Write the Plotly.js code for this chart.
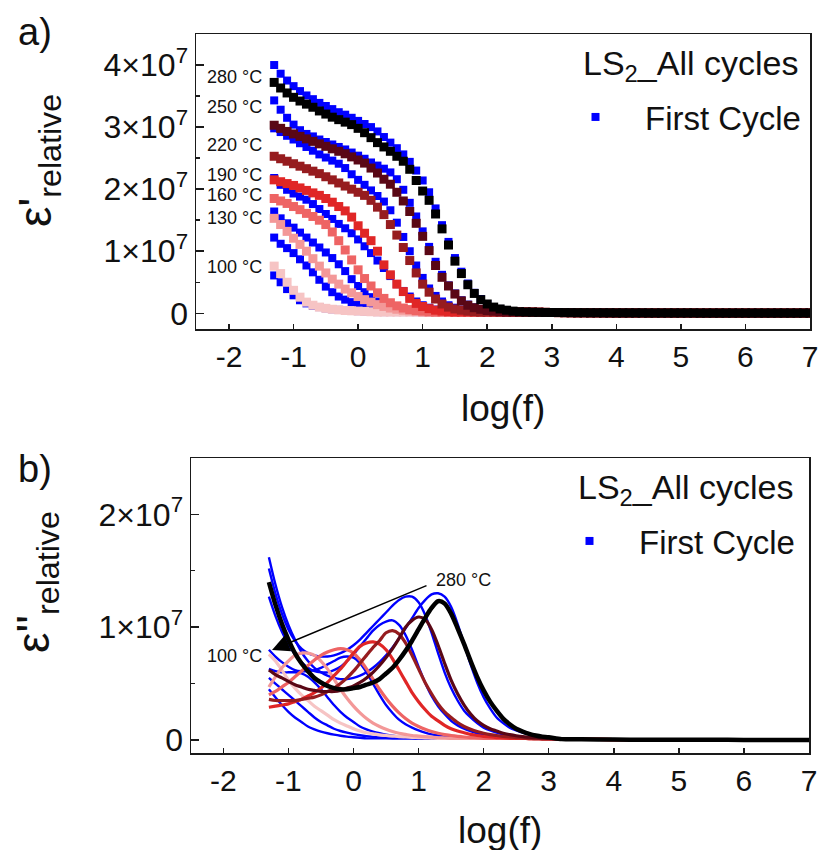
<!DOCTYPE html>
<html><head><meta charset="utf-8">
<script src="https://cdn.plot.ly/plotly-3.0.1.min.js"></script>
<style>html,body{margin:0;padding:0;background:#fff;}#chart{width:819px;height:850px;}</style>
</head><body><div id="chart"></div>
<script>
// ---------- shared frequency grids (log10 f) ----------
const LOGF_TOP = [-1.3,-1.2,-1.1,-1.0,-0.9,-0.8,-0.7,-0.6,-0.5,-0.4,
 -0.3,-0.2,-0.1,0.0,0.1,0.2,0.3,0.4,0.5,0.6,
 0.7,0.8,0.9,1.0,1.1,1.2,1.3,1.4,1.5,1.6,
 1.7,1.8,1.9,2.0,2.1,2.2,2.3,2.4,2.5,2.6,
 2.7,2.8,2.9,3.0,3.1,3.2,3.3,3.4,3.5,3.6,
 3.7,3.8,3.9,4.0,4.1,4.2,4.3,4.4,4.5,4.6,
 4.7,4.8,4.9,5.0,5.1,5.2,5.3,5.4,5.5,5.6,
 5.7,5.8,5.9,6.0,6.1,6.2,6.3,6.4,6.5,6.6,
 6.7,6.8,6.9,7.0];
// high-frequency baseline of eps' (units of 1e7), shared by all series
const TAIL_TOP = [0.02,0.02,0.02,0.02,0.02,0.02,0.02,0.02,0.02,0.02,
 0.02,0.02,0.02,0.02,0.02,0.02,0.02,0.02,0.02,0.02,
 0.02,0.02,0.02,0.02,0.02,0.02,0.02,0.02,0.02,0.02,
 0.02,0.02,0.02,0.02,0.02,0.02,0.02,0.02,0.02,0.02,
 0.018,0.016,0.014,0.013,0.012,0.011,0.010,0.009,0.009,0.008,
 0.008,0.007,0.007,0.006,0.006,0.006,0.006,0.006,0.005,0.005,
 0.005,0.005,0.005,0.005,0.005,0.005,0.004,0.004,0.004,0.004,
 0.004,0.004,0.004,0.004,0.004,0.004,0.004,0.004,0.004,0.004,
 0.004,0.004,0.004,0.004];

// ---------- eps' (units of 1e7), all cycles ----------
const EPS1_280 = [3.72,3.63,3.55,3.48,3.42,3.37,3.32,3.26,3.21,3.16,
 3.12,3.08,3.04,2.98,2.91,2.83,2.75,2.68,2.61,2.53,
 2.45,2.32,2.14,1.97,1.82,1.60,1.36,1.10,0.84,0.64,
 0.46,0.32,0.22,0.15,0.10,0.07,0.05,0.035,0.025,0.02];
const EPS1_250 = [3.03,2.98,2.93,2.89,2.85,2.81,2.77,2.73,2.69,2.65,
 2.61,2.57,2.52,2.47,2.42,2.34,2.26,2.16,2.08,1.95,
 1.81,1.64,1.45,1.24,1.01,0.77,0.58,0.44,0.31,0.20,
 0.13,0.09,0.065,0.045,0.035,0.025,0.02];
const EPS1_220 = [2.53,2.49,2.45,2.41,2.37,2.33,2.29,2.25,2.20,2.15,
 2.10,2.05,2.00,1.95,1.90,1.82,1.71,1.59,1.43,1.26,
 1.06,0.85,0.65,0.47,0.34,0.23,0.15,0.10,0.07,0.05,
 0.035,0.025,0.02];
const EPS1_190 = [2.15,2.12,2.09,2.06,2.02,1.98,1.94,1.90,1.85,1.79,
 1.72,1.65,1.55,1.41,1.29,1.17,1.00,0.78,0.62,0.47,
 0.35,0.24,0.16,0.11,0.075,0.05,0.035,0.025,0.02];
const EPS1_160 = [1.85,1.81,1.77,1.72,1.67,1.61,1.56,1.50,1.43,1.31,
 1.17,1.02,0.86,0.70,0.56,0.44,0.33,0.24,0.17,0.12,
 0.085,0.06,0.045,0.035,0.025,0.02];
const EPS1_130 = [1.53,1.43,1.32,1.21,1.11,1.00,0.88,0.76,0.65,0.55,
 0.47,0.39,0.33,0.27,0.22,0.18,0.14,0.11,0.085,0.065,
 0.05,0.04,0.03,0.02];
const EPS1_100 = [0.76,0.64,0.50,0.37,0.26,0.18,0.13,0.10,0.08,0.065,
 0.055,0.045,0.04,0.035,0.03,0.025,0.02];
// ---------- eps' first cycle ----------
const EPS1_FC_280 = [4.00,3.86,3.75,3.66,3.58,3.51,3.45,3.39,3.34,3.29,
 3.24,3.20,3.15,3.10,3.05,3.00,2.93,2.84,2.75,2.66,
 2.56,2.44,2.30,2.14,1.95,1.69,1.42,1.15,0.89,0.67,
 0.48,0.33,0.23,0.15,0.10,0.07,0.05,0.035,0.025,0.02];
const EPS1_FC_250 = [3.43,3.28,3.15,3.04,2.95,2.89,2.85,2.80,2.76,2.72,
 2.68,2.64,2.59,2.54,2.49,2.43,2.38,2.33,2.27,2.16,
 1.99,1.78,1.56,1.32,1.07,0.83,0.62,0.45,0.32,0.21,
 0.14,0.095,0.07,0.05,0.035,0.025,0.02];
const EPS1_FC_220 = [2.98,2.92,2.86,2.80,2.74,2.68,2.62,2.56,2.51,2.46,
 2.41,2.34,2.24,2.15,2.07,1.98,1.89,1.80,1.66,1.46,
 1.23,1.00,0.77,0.57,0.40,0.28,0.19,0.13,0.09,0.06,
 0.04,0.03,0.02];
const EPS1_FC_190 = [2.18,2.07,1.99,1.93,1.88,1.83,1.76,1.68,1.60,1.52,
 1.44,1.37,1.29,1.19,1.08,0.97,0.85,0.73,0.60,0.47,
 0.36,0.27,0.19,0.13,0.09,0.06,0.04,0.03,0.02];
const EPS1_FC_160 = [1.64,1.53,1.45,1.38,1.30,1.22,1.14,1.06,0.98,0.89,
 0.79,0.68,0.55,0.44,0.34,0.26,0.19,0.14,0.10,0.075,
 0.055,0.04,0.03,0.02];
const EPS1_FC_130 = [1.22,1.12,1.05,0.97,0.87,0.77,0.66,0.54,0.43,0.34,
 0.27,0.22,0.18,0.14,0.11,0.09,0.07,0.055,0.045,0.035,
 0.03,0.025,0.02];
const EPS1_FC_100 = [0.61,0.50,0.39,0.29,0.21,0.16,0.12,0.10,0.08,0.065,
 0.055,0.045,0.04,0.035,0.03,0.025,0.02];

// ---------- eps'' grid ----------
const LOGF_BOT = [-1.3,-1.2,-1.1,-1.0,-0.9,-0.8,-0.7,-0.6,-0.5,-0.4,
 -0.3,-0.2,-0.1,0.0,0.1,0.2,0.3,0.4,0.5,0.6,
 0.7,0.8,0.9,1.0,1.1,1.2,1.3,1.4,1.5,1.6,
 1.7,1.8,1.9,2.0,2.1,2.2,2.3,2.4,2.5,2.6,
 2.7,2.8,2.9,3.0,3.2,3.5,4.0,4.5,5.0,5.5,6.0,6.5,7.0];
const TAIL_BOT = [0.015,0.015,0.015,0.015,0.015,0.015,0.015,0.015,0.015,0.015,
 0.015,0.015,0.015,0.015,0.015,0.015,0.015,0.015,0.015,0.015,
 0.015,0.015,0.015,0.015,0.015,0.015,0.015,0.015,0.015,0.015,
 0.015,0.015,0.015,0.015,0.015,0.015,0.015,0.015,0.015,0.014,
 0.013,0.012,0.011,0.010,0.008,0.006,0.004,0.003,0.002,0.002,0.001,0.001,0.001];
// ---------- eps'' (units of 1e7), all cycles ----------
const EPS2_280 = [1.40,1.20,1.03,0.89,0.77,0.68,0.61,0.55,0.51,0.48,
 0.46,0.45,0.45,0.46,0.47,0.49,0.51,0.54,0.59,0.64,
 0.71,0.79,0.88,0.98,1.08,1.17,1.23,1.21,1.12,0.99,
 0.85,0.70,0.56,0.44,0.34,0.26,0.19,0.14,0.10,0.075,
 0.055,0.04,0.03,0.025];
const EPS2_250 = [0.62,0.58,0.55,0.52,0.49,0.47,0.45,0.44,0.43,0.43,
 0.43,0.44,0.46,0.48,0.51,0.55,0.60,0.66,0.73,0.81,
 0.90,1.00,1.06,1.09,1.07,0.98,0.84,0.68,0.53,0.41,
 0.31,0.23,0.17,0.13,0.10,0.08,0.06,0.048,0.038,0.03,
 0.025,0.02,0.017,0.015];
const EPS2_220 = [0.36,0.35,0.35,0.35,0.35,0.36,0.37,0.38,0.40,0.43,
 0.46,0.50,0.55,0.61,0.68,0.75,0.82,0.88,0.95,0.97,
 0.94,0.86,0.75,0.63,0.51,0.41,0.32,0.25,0.20,0.155,
 0.12,0.095,0.075,0.06,0.048,0.04,0.033,0.027,0.022,0.018,
 0.015];
const EPS2_190 = [0.29,0.30,0.31,0.32,0.34,0.36,0.39,0.42,0.46,0.51,
 0.57,0.63,0.70,0.77,0.83,0.86,0.87,0.85,0.80,0.72,
 0.62,0.52,0.42,0.34,0.27,0.21,0.17,0.13,0.10,0.08,
 0.065,0.05,0.04,0.033,0.027,0.022,0.018,0.015];
const EPS2_160 = [0.40,0.43,0.47,0.51,0.56,0.61,0.66,0.71,0.75,0.78,
 0.80,0.81,0.80,0.77,0.71,0.63,0.54,0.45,0.37,0.30,
 0.24,0.19,0.15,0.12,0.095,0.075,0.06,0.048,0.04,0.033,
 0.027,0.022,0.018,0.015];
const EPS2_130 = [0.47,0.56,0.64,0.70,0.75,0.77,0.77,0.75,0.70,0.63,
 0.54,0.45,0.37,0.30,0.24,0.19,0.15,0.12,0.095,0.075,
 0.06,0.05,0.04,0.035,0.03,0.025,0.02,0.018,0.015];
const EPS2_100 = [0.76,0.70,0.62,0.53,0.46,0.40,0.35,0.30,0.26,0.22,
 0.18,0.15,0.125,0.10,0.08,0.065,0.055,0.045,0.04,0.035,
 0.03,0.027,0.024,0.021,0.019,0.017,0.015];
// ---------- eps'' first cycle ----------
const EPS2_FC_280 = [1.62,1.38,1.18,1.02,0.89,0.78,0.70,0.64,0.60,0.57,
 0.55,0.54,0.54,0.55,0.57,0.60,0.64,0.69,0.75,0.82,
 0.90,0.99,1.08,1.17,1.24,1.29,1.30,1.27,1.18,1.03,
 0.85,0.67,0.51,0.38,0.28,0.20,0.15,0.11,0.085,0.065,
 0.05,0.04,0.033,0.027];
const EPS2_FC_250 = [1.52,1.30,1.12,0.98,0.88,0.81,0.77,0.75,0.74,0.74,
 0.75,0.77,0.80,0.84,0.89,0.95,1.01,1.07,1.13,1.19,
 1.24,1.27,1.27,1.22,1.11,0.95,0.77,0.60,0.46,0.35,
 0.26,0.20,0.15,0.11,0.085,0.065,0.05,0.04,0.032,0.026,
 0.021];
const EPS2_FC_220 = [1.27,1.10,0.96,0.85,0.76,0.69,0.64,0.61,0.60,0.60,
 0.62,0.65,0.70,0.76,0.83,0.90,0.97,1.02,1.05,1.06,
 1.02,0.93,0.80,0.65,0.51,0.39,0.30,0.23,0.17,0.13,
 0.10,0.078,0.06,0.047,0.037,0.03,0.024,0.02];
const EPS2_FC_190 = [0.80,0.74,0.69,0.65,0.62,0.61,0.61,0.62,0.64,0.67,
 0.70,0.73,0.74,0.73,0.68,0.60,0.50,0.40,0.31,0.24,
 0.18,0.14,0.11,0.085,0.065,0.05,0.04,0.032,0.025,0.02];
const EPS2_FC_160 = [0.63,0.61,0.60,0.60,0.60,0.59,0.56,0.51,0.45,0.38,
 0.31,0.25,0.20,0.16,0.12,0.095,0.075,0.06,0.048,0.038,
 0.03,0.025,0.02];
const EPS2_FC_130 = [0.55,0.50,0.45,0.40,0.35,0.30,0.25,0.20,0.16,0.13,
 0.10,0.08,0.065,0.052,0.042,0.034,0.028,0.023,0.019,0.016];
const EPS2_FC_100 = [0.45,0.38,0.31,0.25,0.20,0.16,0.12,0.095,0.075,0.06,
 0.048,0.038,0.03,0.025,0.02];

// ---------- labels / ticks ----------
const TEMPS = ['100 °C','130 °C','160 °C','190 °C','220 °C','250 °C','280 °C'];
const X_TICKS = [-2,-1,0,1,2,3,4,5,6,7];
const X_TEXT = ['-2','-1','0','1','2','3','4','5','6','7'];
const X_MAJOR = [-2,0,2,4,6];
const Y1_TICKS = [0,1,2,3,4];
const Y1_TEXT = ['0','1×10<sup>7</sup>','2×10<sup>7</sup>','3×10<sup>7</sup>','4×10<sup>7</sup>'];
const Y1_MINOR = [0.5,1.5,2.5,3.5,4.5];
const Y2_TICKS = [0,1,2];
const Y2_TEXT = ['0','1×10<sup>7</sup>','2×10<sup>7</sup>'];
const Y2_MINOR = [0.5,1.5];

// ---------- styling ----------
const COLORS = ['#f6c4c4','#f39898','#ee6464','#e02626','#961c1f','#5a0715','#000000'];
const BLUE = '#0000ff';
const FONT = '"Liberation Sans", Arial, sans-serif';
const W = 819, H = 850;
const px = x => x / W, py = y => 1 - y / H;

const ALL1 = [EPS1_100,EPS1_130,EPS1_160,EPS1_190,EPS1_220,EPS1_250,EPS1_280];
const FC1 = [EPS1_FC_100,EPS1_FC_130,EPS1_FC_160,EPS1_FC_190,EPS1_FC_220,EPS1_FC_250,EPS1_FC_280];
const ALL2 = [EPS2_100,EPS2_130,EPS2_160,EPS2_190,EPS2_220,EPS2_250,EPS2_280];
const FC2 = [EPS2_FC_100,EPS2_FC_130,EPS2_FC_160,EPS2_FC_190,EPS2_FC_220,EPS2_FC_250,EPS2_FC_280];

const fullTop = a => a.concat(TAIL_TOP.slice(a.length));
const fullBot = a => a.concat(TAIL_BOT.slice(a.length));

const traces = [];
FC1.forEach((s, i) => traces.push({
  x: LOGF_TOP, y: fullTop(s), type: 'scatter', mode: 'markers', xaxis: 'x', yaxis: 'y',
  marker: {symbol: 'square', size: 8, color: BLUE, line: {width: 0}},
  name: 'First Cycle', legend: 'legend', showlegend: i === 6, hoverinfo: 'skip'
}));
ALL1.forEach((s, i) => traces.push({
  x: LOGF_TOP, y: fullTop(s), type: 'scatter', mode: 'markers', xaxis: 'x', yaxis: 'y',
  marker: {symbol: 'square', size: 9, color: COLORS[i], line: {width: 0}},
  name: TEMPS[i], showlegend: false, hoverinfo: 'skip'
}));
FC2.forEach((s, i) => traces.push({
  x: LOGF_BOT, y: fullBot(s), type: 'scatter', mode: 'lines', xaxis: 'x2', yaxis: 'y2',
  line: {color: BLUE, width: 2.4, shape: 'spline', smoothing: 0.8},
  name: 'First Cycle', showlegend: false, hoverinfo: 'skip'
}));
ALL2.forEach((s, i) => traces.push({
  x: LOGF_BOT, y: fullBot(s), type: 'scatter', mode: 'lines', xaxis: 'x2', yaxis: 'y2',
  line: {color: COLORS[i], width: i === 6 ? 4.5 : 3.2, shape: 'spline', smoothing: 0.8},
  name: TEMPS[i], showlegend: false, hoverinfo: 'skip'
}));
// legend key for the lower panel
traces.push({x: [null], y: [null], type: 'scatter', mode: 'markers', xaxis: 'x2', yaxis: 'y2',
  marker: {symbol: 'square', size: 8, color: BLUE}, name: 'First Cycle', legend: 'legend2', showlegend: true});

const LINE = '#1a1a1a';
const axBase = {showline: true, mirror: true, linecolor: LINE, linewidth: 1.5, showgrid: false, zeroline: false,
  ticks: 'inside', tickcolor: LINE, tickwidth: 1.5};
const xFont = {size: 30, color: '#111', family: FONT};
const yFont = {size: 32, color: '#111', family: FONT};
const tickOnly = {showline: false, showgrid: false, zeroline: false, showticklabels: false,
  ticks: 'inside', ticklen: 9, tickcolor: LINE, tickwidth: 1.5, tickmode: 'array', tickvals: X_MAJOR, side: 'bottom'};

const ann = (text, x, y, size, extra) => Object.assign({text, x: px(x), y: py(y), xref: 'paper', yref: 'paper',
  showarrow: false, font: {size, color: '#111', family: FONT}, xanchor: 'center', yanchor: 'middle'}, extra || {});

const annotations = [
  ann('a)', 35, 32, 38), ann('b)', 35, 469, 38),
  ann("ε'<sub>relative</sub>", 38, 161, 46, {textangle: -90}),
  ann("ε''<sub>relative</sub>", 36, 582, 46, {textangle: -90}),
  ann('log(f)', 503, 408, 37), ann('log(f)', 500, 830, 37),
  ann('LS<sub>2</sub>_All cycles', 581, 66, 34, {xanchor: 'left'}),
  ann('LS<sub>2</sub>_All cycles', 576, 490, 34, {xanchor: 'left'}),
  ann(TEMPS[6], 234, 77, 18), ann(TEMPS[5], 234, 107, 18), ann(TEMPS[4], 234, 145, 18),
  ann(TEMPS[3], 234, 175, 18), ann(TEMPS[2], 234, 195, 18), ann(TEMPS[1], 234, 218, 18),
  ann(TEMPS[0], 234, 267, 18),
  ann(TEMPS[6], 463, 580, 18), ann(TEMPS[0], 234, 656, 18),
  {x: px(272), y: py(650), xref: 'paper', yref: 'paper', ax: 156, ay: -65, axref: 'pixel', ayref: 'pixel',
   text: '', showarrow: true, arrowhead: 2, arrowsize: 2.3, arrowwidth: 1.5, arrowcolor: '#000'}
];

const layout = {
  width: W, height: H, margin: {l: 0, r: 0, t: 0, b: 0},
  paper_bgcolor: '#fff', plot_bgcolor: '#fff', font: {family: FONT, color: '#111'},
  xaxis: Object.assign({}, axBase, {domain: [px(196), px(810)], anchor: 'y', range: [-2.511, 7],
    tickmode: 'array', tickvals: X_TICKS, ticktext: X_TEXT, ticklen: 5, tickfont: xFont}),
  yaxis: Object.assign({}, axBase, {domain: [py(329), py(34)], anchor: 'x', range: [-0.253, 4.50],
    tickmode: 'array', tickvals: Y1_TICKS, ticktext: Y1_TEXT, ticklen: 8, tickfont: yFont,
    minor: {tickmode: 'array', tickvals: Y1_MINOR, ticks: 'inside', ticklen: 4, tickwidth: 1.5, tickcolor: LINE}}),
  xaxis2: Object.assign({}, axBase, {domain: [px(191), px(809)], anchor: 'y2', range: [-2.497, 7],
    tickmode: 'array', tickvals: X_TICKS, ticktext: X_TEXT, ticklen: 5, tickfont: xFont}),
  yaxis2: Object.assign({}, axBase, {domain: [py(753), py(458)], anchor: 'x2', range: [-0.115, 2.499],
    tickmode: 'array', tickvals: Y2_TICKS, ticktext: Y2_TEXT, ticklen: 8, tickfont: yFont,
    minor: {tickmode: 'array', tickvals: Y2_MINOR, ticks: 'inside', ticklen: 4, tickwidth: 1.5, tickcolor: LINE}}),
  xaxis3: Object.assign({}, tickOnly, {overlaying: 'x', anchor: 'y', range: [-2.511, 7]}),
  xaxis4: Object.assign({}, tickOnly, {overlaying: 'x2', anchor: 'y2', range: [-2.497, 7]}),
  legend: {x: px(546), y: py(117), xanchor: 'left', yanchor: 'middle', bgcolor: 'rgba(0,0,0,0)',
    font: {size: 33, color: '#111', family: FONT}, itemwidth: 89},
  legend2: {x: px(540), y: py(541), xanchor: 'left', yanchor: 'middle', bgcolor: 'rgba(0,0,0,0)',
    font: {size: 33, color: '#111', family: FONT}, itemwidth: 89},
  annotations
};

Plotly.newPlot('chart', traces, layout, {staticPlot: true, displayModeBar: false});
</script></body></html>
